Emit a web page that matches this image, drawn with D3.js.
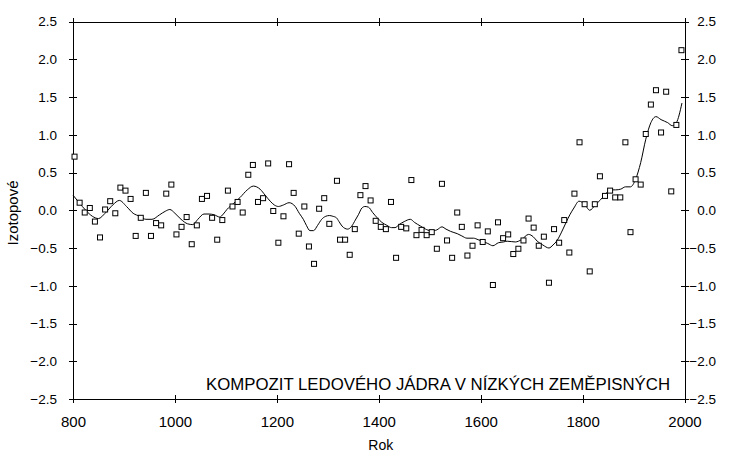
<!DOCTYPE html>
<html>
<head>
<meta charset="utf-8">
<script src="https://cdn.jsdelivr.net/npm/d3@7"></script>
<style>
    body { margin: 0; background: #fff; }
    svg { display: block; font-family: "Liberation Sans", Arial, sans-serif; }
    .axis path, .axis line { stroke: #000; stroke-width: 1; shape-rendering: crispEdges; }
    .axis text { fill: #000; }
</style>
</head>
<body>
<svg id="chart" width="730" height="454"></svg>
<script>
// decadal points (year, isotope anomaly)
const pointYears = [803, 813, 823, 833, 843, 853, 863, 873, 883, 893, 903, 913, 923, 933, 943, 953, 963, 973, 983, 993,
    1003, 1013, 1023, 1033, 1043, 1053, 1063, 1073, 1083, 1093, 1104, 1113, 1123, 1133, 1144, 1153, 1163, 1173, 1183, 1193,
    1203, 1213, 1224, 1233, 1243, 1254, 1263, 1273, 1283, 1293, 1303, 1318, 1324, 1334, 1343, 1353, 1364, 1374, 1384, 1394,
    1404, 1414, 1424, 1434, 1444, 1454, 1464, 1474, 1484, 1494, 1504, 1514, 1524, 1534, 1544, 1554, 1563, 1574, 1584, 1594,
    1604, 1614, 1624, 1634, 1644, 1654, 1664, 1674, 1684, 1694, 1704, 1714, 1724, 1734, 1744, 1754, 1764, 1774, 1784, 1794,
    1804, 1814, 1824, 1834, 1844, 1854, 1864, 1874, 1884, 1894, 1904, 1914, 1924, 1934, 1944, 1954, 1964, 1974, 1984, 1994];
const pointValues = [0.71, 0.10, -0.03, 0.03, -0.15, -0.36, 0.01, 0.12, -0.04, 0.30, 0.26, 0.15, -0.34, -0.10, 0.23, -0.34, -0.17, -0.20, 0.22, 0.34,
    -0.32, -0.22, -0.09, -0.45, -0.20, 0.15, 0.19, -0.10, -0.39, -0.13, 0.26, 0.05, 0.11, -0.03, 0.47, 0.60, 0.11, 0.16, 0.62, -0.01,
    -0.43, -0.08, 0.61, 0.23, -0.31, 0.05, -0.48, -0.71, 0.02, 0.16, -0.18, 0.39, -0.39, -0.39, -0.59, -0.25, 0.20, 0.32, 0.13, -0.14,
    -0.22, -0.25, 0.11, -0.63, -0.22, -0.24, 0.40, -0.33, -0.26, -0.33, -0.29, -0.51, 0.35, -0.40, -0.63, -0.03, -0.22, -0.60, -0.47, -0.20,
    -0.42, -0.28, -0.99, -0.16, -0.37, -0.32, -0.58, -0.51, -0.40, -0.11, -0.23, -0.47, -0.35, -0.96, -0.25, -0.43, -0.13, -0.56, 0.22, 0.90,
    0.08, -0.81, 0.08, 0.45, 0.19, 0.26, 0.17, 0.17, 0.90, -0.29, 0.41, 0.34, 1.01, 1.40, 1.59, 1.03, 1.57, 0.25, 1.13, 2.12];

// smoothed curve
const curveYears = [800, 812, 825, 838, 850, 863, 878, 891, 905, 918, 931, 943, 955, 970, 982, 990, 1000, 1012, 1025, 1035,
    1045, 1057, 1067, 1077, 1088, 1095, 1102, 1115, 1128, 1142, 1154, 1167, 1177, 1187, 1195, 1203, 1213, 1224, 1236, 1244,
    1252, 1258, 1265, 1272, 1280, 1288, 1296, 1303, 1310, 1317, 1322, 1328, 1339, 1347, 1354, 1360, 1367, 1373, 1380, 1388,
    1397, 1406, 1416, 1425, 1432, 1440, 1450, 1462, 1470, 1482, 1492, 1501, 1508, 1514, 1524, 1532, 1541, 1554, 1563, 1573,
    1586, 1595, 1603, 1614, 1624, 1635, 1645, 1652, 1668, 1680, 1694, 1703, 1711, 1722, 1734, 1742, 1750, 1758, 1767, 1775,
    1783, 1793, 1804, 1814, 1825, 1834, 1842, 1855, 1865, 1875, 1884, 1894, 1904, 1914, 1924, 1934, 1944, 1954, 1967, 1976,
    1984, 1995];
const curveValues = [0.20, 0.10, 0.00, -0.08, -0.11, -0.04, 0.07, 0.13, 0.05, -0.04, -0.08, -0.12, -0.12, -0.06, -0.01, 0.01, -0.04, -0.12, -0.18, -0.19,
    -0.12, -0.05, -0.05, -0.06, -0.09, -0.05, 0.01, 0.09, 0.17, 0.27, 0.32, 0.28, 0.20, 0.12, 0.07, 0.05, 0.07, 0.10, 0.05, -0.04,
    -0.12, -0.20, -0.27, -0.27, -0.20, -0.12, -0.08, -0.07, -0.08, -0.10, -0.15, -0.21, -0.25, -0.21, -0.13, -0.06, 0.03, 0.05, 0.04, -0.03,
    -0.10, -0.16, -0.20, -0.23, -0.23, -0.19, -0.15, -0.12, -0.16, -0.21, -0.25, -0.27, -0.27, -0.26, -0.22, -0.25, -0.28, -0.31, -0.34, -0.37,
    -0.37, -0.39, -0.41, -0.44, -0.47, -0.43, -0.42, -0.41, -0.42, -0.39, -0.32, -0.35, -0.41, -0.46, -0.50, -0.46, -0.40, -0.30, -0.17, -0.06,
    0.03, 0.12, 0.08, 0.00, 0.07, 0.13, 0.19, 0.27, 0.27, 0.28, 0.31, 0.31, 0.41, 0.63, 0.94, 1.16, 1.24, 1.20, 1.16, 1.12,
    1.16, 1.42];

const xTicks = [800, 1000, 1200, 1400, 1600, 1800, 2000];
const yTicks = [-2.5, -2.0, -1.5, -1.0, -0.5, 0.0, 0.5, 1.0, 1.5, 2.0, 2.5];

const xTitle = 'Rok';
const yTitle = 'Izotopové';
const note = 'KOMPOZIT LEDOVÉHO JÁDRA V NÍZKÝCH ZEMĚPISNÝCH';

const svg = d3.select('#chart');
const plotL = 73, plotR = 684.5, plotT = 21.5, plotB = 399;

const scaleX = d3.scaleLinear().domain([800, 2000]).range([plotL, plotR]);
const scaleY = d3.scaleLinear().domain([-2.5, 2.5]).range([plotB, plotT]);

// crossing ticks: stretch each tick line to both sides of the axis
const crossTicks = (g, horizontal, k) => {
    g.selectAll('.tick line')
        .attr(horizontal ? 'y1' : 'x1', k)
        .attr(horizontal ? 'y2' : 'x2', -k);
};

svg.append('g')
    .attr('class', 'axis')
    .attr('transform', `translate(${plotL},0)`)
    .call(d3.axisLeft(scaleY).tickValues(yTicks).tickFormat(d3.format('.1f')).tickSize(4).tickSizeOuter(0).tickPadding(12))
    .call(g => crossTicks(g, false, 4))
    .call(g => g.selectAll('text').attr('font-size', 13.5).attr('font-family', null));

svg.append('g')
    .attr('class', 'axis')
    .attr('transform', `translate(${plotR},0)`)
    .call(d3.axisRight(scaleY).tickValues(yTicks).tickFormat(d3.format('.1f')).tickSize(4).tickSizeOuter(0))
    .call(g => crossTicks(g, false, 4))
    .call(g => g.selectAll('text').attr('x', 31.5).attr('text-anchor', 'end').attr('font-size', 13.5).attr('font-family', null));

svg.append('g')
    .attr('class', 'axis')
    .attr('transform', `translate(0,${plotB})`)
    .call(d3.axisBottom(scaleX).tickValues(xTicks).tickFormat(d3.format('d')).tickSize(4).tickSizeOuter(0).tickPadding(13))
    .call(g => crossTicks(g, true, 4))
    .call(g => g.selectAll('text').attr('font-size', 15).attr('font-family', null));

svg.append('g')
    .attr('class', 'axis')
    .attr('transform', `translate(0,${plotT})`)
    .call(d3.axisTop(scaleX).tickValues(xTicks).tickFormat('').tickSize(4).tickSizeOuter(0))
    .call(g => crossTicks(g, true, 4));

// smoothed line
const line = d3.line()
    .x(d => scaleX(d[0]))
    .y(d => scaleY(d[1]))
    .curve(d3.curveMonotoneX);

svg.append('path')
    .datum(d3.zip(curveYears, curveValues))
    .attr('d', line)
    .attr('fill', 'none')
    .attr('stroke', '#000')
    .attr('stroke-width', 1);

// open square markers
const boxW = 5;
svg.append('g')
    .selectAll('rect')
    .data(d3.zip(pointYears, pointValues))
    .join('rect')
    .attr('x', d => scaleX(d[0]) - boxW / 2)
    .attr('y', d => scaleY(d[1]) - boxW / 2)
    .attr('width', boxW)
    .attr('height', boxW)
    .attr('fill', '#fff')
    .attr('stroke', '#000')
    .attr('stroke-width', 1);

svg.append('text')
    .attr('x', 206)
    .attr('y', 390)
    .attr('font-size', 16.8)
    .text(note);

svg.append('text')
    .attr('x', (plotL + plotR) / 2 + 2)
    .attr('y', 450)
    .attr('text-anchor', 'middle')
    .attr('font-size', 14)
    .text(xTitle);

svg.append('text')
    .attr('transform', `translate(18,213) rotate(-90)`)
    .attr('text-anchor', 'middle')
    .attr('font-size', 15)
    .text(yTitle);
</script>
</body>
</html>
